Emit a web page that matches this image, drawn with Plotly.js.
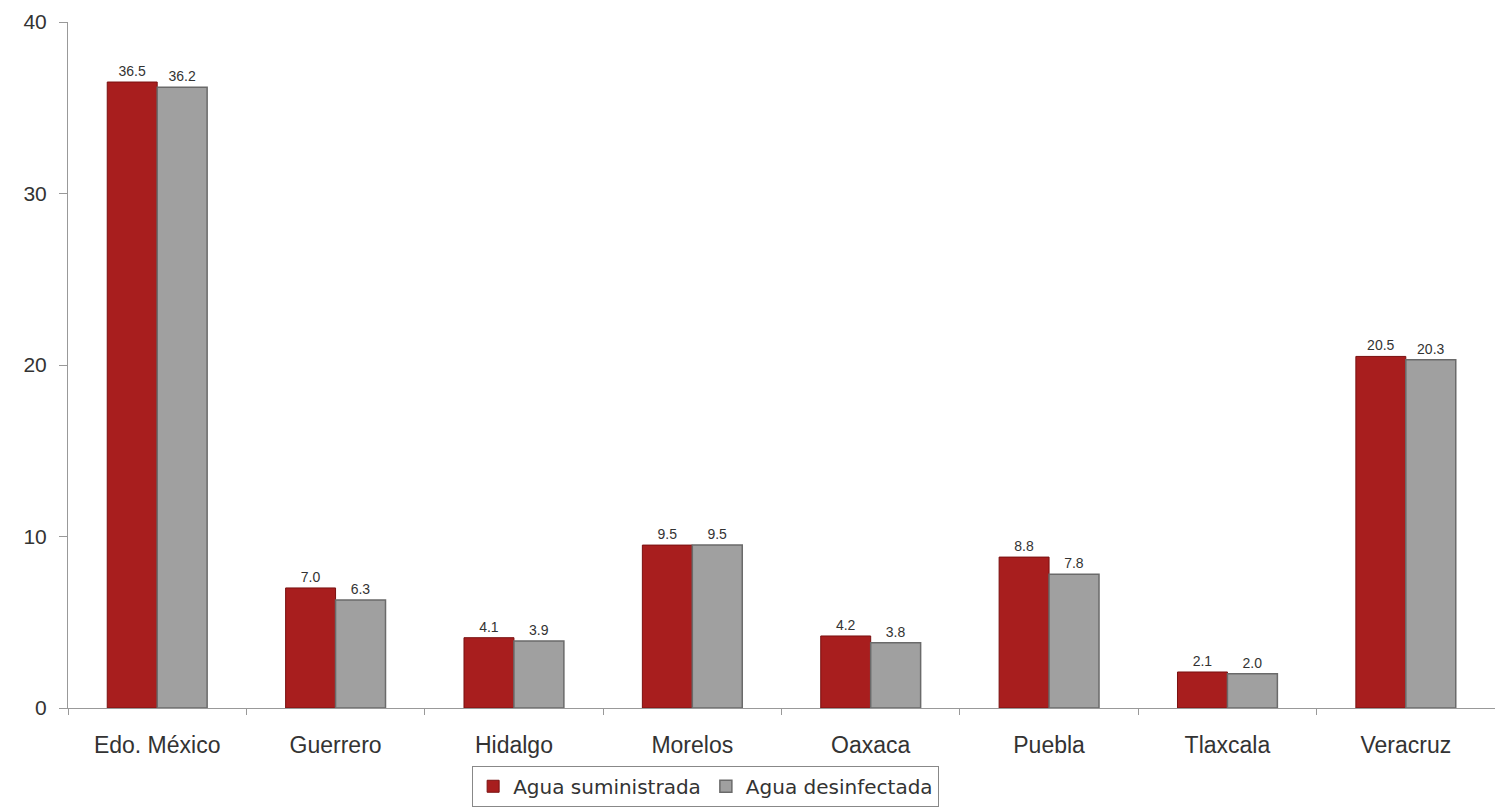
<!DOCTYPE html>
<html>
<head>
<meta charset="utf-8">
<script src="https://cdn.plot.ly/plotly-3.0.1.min.js"></script>
<style>html,body{margin:0;padding:0;background:#fff;}#chart{width:1495px;height:810px;}</style>
</head>
<body>
<div id="chart"></div>
<script>
const categories = ["Edo. México", "Guerrero", "Hidalgo", "Morelos", "Oaxaca", "Puebla", "Tlaxcala", "Veracruz"];
const aguaSuministrada = [36.5, 7.0, 4.1, 9.5, 4.2, 8.8, 2.1, 20.5];
const aguaDesinfectada = [36.2, 6.3, 3.9, 9.5, 3.8, 7.8, 2.0, 20.3];
const yTicks = [0, 10, 20, 30, 40];

const labelFont = {family: '"Liberation Sans", Arial, sans-serif', size: 14, color: "#333"};

const traces = [
  {
    type: "bar", name: "Agua suministrada", x: categories, y: aguaSuministrada,
    marker: {color: "#A81E1E", line: {color: "#7a1010", width: 1}},
    text: aguaSuministrada.map(v => v.toFixed(1)), textposition: "outside",
    textfont: labelFont, cliponaxis: false
  },
  {
    type: "bar", name: "Agua desinfectada", x: categories, y: aguaDesinfectada,
    marker: {color: "#A0A0A0", line: {color: "#6a6a6a", width: 1.5}},
    text: aguaDesinfectada.map(v => v.toFixed(1)), textposition: "outside",
    textfont: labelFont, cliponaxis: false
  }
];

const layout = {
  width: 1495, height: 810,
  margin: {l: 68, r: 0, t: 22, b: 102, autoexpand: false},
  paper_bgcolor: "#fff", plot_bgcolor: "#fff",
  barmode: "group", bargap: 0.44, bargroupgap: 0,
  font: {family: '"Liberation Sans", Arial, sans-serif', color: "#333"},
  xaxis: {
    type: "category", tickson: "boundaries", ticks: "outside", ticklen: 6,
    tickcolor: "#999", showline: true, linecolor: "#999", linewidth: 1,
    showgrid: false, tickfont: {size: 23, color: "#333"}, zeroline: false,
    ticklabelstandoff: 16, automargin: false
  },
  yaxis: {
    range: [0, 40], tickvals: yTicks, ticks: "outside", ticklen: 8, tickcolor: "#999",
    showline: true, linecolor: "#999", linewidth: 1, showgrid: false, zeroline: false,
    tickfont: {size: 21, color: "#333"}, ticklabelstandoff: 8, automargin: false
  },
  showlegend: true,
  legend: {
    orientation: "h", xref: "container", yref: "container",
    x: 0.472, xanchor: "center", y: 0.004, yanchor: "bottom",
    bordercolor: "#888", borderwidth: 1,
    font: {family: '"DejaVu Sans", Verdana, sans-serif', size: 20, color: "#333"},
    itemwidth: 30, tracegroupgap: 0
  }
};

Plotly.newPlot("chart", traces, layout, {displayModeBar: false, staticPlot: true});
</script>
</body>
</html>
